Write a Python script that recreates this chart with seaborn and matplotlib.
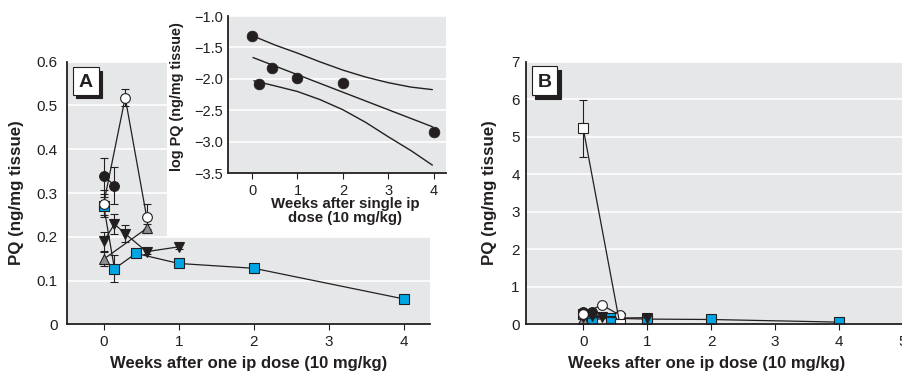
import numpy as np
import pandas as pd
import matplotlib
matplotlib.use("Agg")
import matplotlib.pyplot as plt
import seaborn as sns
from matplotlib.patches import Rectangle
from matplotlib.transforms import offset_copy

# ---------------- data ----------------
weeks_black_circle = [0.0, 0.143]
pq_black_circle = [0.339, 0.317]
err_black_circle = [0.042, 0.043]

weeks_white_circle = [0.0, 0.286, 0.571]
pq_white_circle = [0.276, 0.518, 0.246]
err_white_circle = [0.03, 0.02, 0.028]

weeks_blue_square = [0.0, 0.143, 0.429, 1.0, 2.0, 4.0]
pq_blue_square = [0.270, 0.127, 0.162, 0.139, 0.128, 0.058]
err_blue_square = [0.02, 0.031, 0.006, 0.006, 0.01, 0.004]

weeks_down_tri = [0.0, 0.143, 0.286, 0.571, 1.0]
pq_down_tri = [0.190, 0.229, 0.207, 0.166, 0.177]
err_down_tri = [0.022, 0.022, 0.02, 0.005, 0.006]

weeks_gray_tri = [0.0, 0.571]
pq_gray_tri = [0.149, 0.219]
err_gray_tri = [0.016, 0.01]

weeks_white_square = [0.0, 0.571]
pq_white_square = [5.22, 0.02]
err_white_square = [0.77, 0.0]

inset_weeks = [0.0, 0.143, 0.429, 1.0, 2.0, 4.0]
inset_logpq = [-1.31, -2.08, -1.82, -1.98, -2.06, -2.84]
fit_weeks = [0.02, 3.97]
fit_logpq = [-1.66, -2.76]
upper_weeks = [0.13, 0.5, 1.0, 1.5, 2.0, 2.5, 3.0, 3.5, 3.97]
upper_logpq = [-1.35, -1.46, -1.59, -1.73, -1.86, -1.97, -2.06, -2.13, -2.17]
lower_weeks = [0.04, 0.5, 1.0, 1.5, 2.0, 2.5, 3.0, 3.5, 3.97]
lower_logpq = [-2.03, -2.11, -2.20, -2.33, -2.49, -2.69, -2.92, -3.14, -3.37]

xticks_A = [0, 1, 2, 3, 4]
yticks_A = [0, 0.1, 0.2, 0.3, 0.4, 0.5, 0.6]
yticklabels_A = ["0", "0.1", "0.2", "0.3", "0.4", "0.5", "0.6"]
xticks_B = [0, 1, 2, 3, 4, 5]
yticks_B = [0, 1, 2, 3, 4, 5, 6, 7]
xticks_I = [0, 1, 2, 3, 4]
yticks_I = [-1.0, -1.5, -2.0, -2.5, -3.0, -3.5]
yticklabels_I = ["\u22121.0", "\u22121.5", "\u22122.0", "\u22122.5", "\u22123.0", "\u22123.5"]

xlabel_main = "Weeks after one ip dose (10 mg/kg)"
ylabel_main = "PQ (ng/mg tissue)"
xlabel_inset = "Weeks after single ip\ndose (10 mg/kg)"
ylabel_inset = "log PQ (ng/mg tissue)"

# ---------------- style ----------------
BG = "#e6e7e8"
INK = "#231f20"
BLUE = "#00a6e4"
GRAY = "#8c8e90"

sns.set_style("darkgrid", rc={"axes.facecolor": BG, "grid.color": "white",
                              "grid.linewidth": 1.2})
plt.rcParams["font.family"] = ["Liberation Sans", "DejaVu Sans"]
plt.rcParams["text.color"] = INK
plt.rcParams["axes.labelcolor"] = INK
plt.rcParams["xtick.color"] = INK
plt.rcParams["ytick.color"] = INK

fig = plt.figure(figsize=(9.03, 3.77), dpi=100)
W, H = 903.0, 377.0
axA = fig.add_axes([67 / W, 1 - 324.3 / H, 363 / W, 262.6 / H])
axB = fig.add_axes([526 / W, 1 - 324.3 / H, 377 / W, 262.6 / H])
axI = fig.add_axes([228 / W, 1 - 173.3 / H, 218 / W, 157.3 / H])


def style_axes(ax, ypad, tick_fs):
    for s in ["top", "right"]:
        ax.spines[s].set_visible(False)
    for s in ["left", "bottom"]:
        ax.spines[s].set_visible(True)
        ax.spines[s].set_color(INK)
        ax.spines[s].set_linewidth(1.3)
    ax.grid(axis="x", visible=False)
    ax.grid(axis="y", visible=True, color="white", linewidth=1.2)
    ax.set_axisbelow(True)
    ax.tick_params(axis="x", bottom=True, length=4, width=0.8, color=INK,
                   direction="out", pad=3.5, labelsize=tick_fs)
    ax.tick_params(axis="y", left=False, length=0, pad=ypad, labelsize=tick_fs)


def series(ax, xs, ys, errs, marker, face, ms):
    ax.errorbar(xs, ys, yerr=errs, fmt="none", ecolor=INK, elinewidth=0.8,
                capsize=3, capthick=0.8, zorder=1.9)
    sns.lineplot(x=xs, y=ys, ax=ax, sort=False, color=INK, linewidth=0.9,
                 marker=marker, markersize=ms, markerfacecolor=face,
                 markeredgecolor=INK, markeredgewidth=0.8, errorbar=None)


def draw_series(ax, with_white_square):
    series(ax, weeks_blue_square, pq_blue_square, err_blue_square, "s", BLUE, 6.5)
    series(ax, weeks_gray_tri, pq_gray_tri, err_gray_tri, "^", GRAY, 7.5)
    series(ax, weeks_down_tri, pq_down_tri, err_down_tri, "v", INK, 7.5)
    series(ax, weeks_black_circle, pq_black_circle, err_black_circle, "o", INK, 7)
    series(ax, weeks_white_circle, pq_white_circle, err_white_circle, "o", "white", 7)
    if with_white_square:
        series(ax, weeks_white_square, pq_white_square, err_white_square, "s", "white", 7)


def panel_box(ax, letter, x0, y0, w, h):
    shadow = offset_copy(ax.transAxes, fig=fig, x=3.5, y=-3.5, units="dots")
    ax.add_patch(Rectangle((x0, y0), w, h, transform=shadow, fc=INK, ec=INK,
                           lw=0.8, zorder=5, clip_on=False))
    ax.add_patch(Rectangle((x0, y0), w, h, transform=ax.transAxes, fc="white",
                           ec=INK, lw=0.8, zorder=6, clip_on=False))
    ax.text(x0 + w / 2, y0 + h / 2, letter, transform=ax.transAxes,
            ha="center", va="center_baseline", fontsize=14, fontweight="bold",
            color=INK, zorder=7)


# ---------------- panel A ----------------
style_axes(axA, 6.5, 11)
draw_series(axA, False)
axA.set_xlim(-0.49, 4.35)
axA.set_ylim(0, 0.6)
axA.set_xticks(xticks_A)
axA.set_xticklabels([str(t) for t in xticks_A])
axA.set_yticks(yticks_A)
axA.set_yticklabels(yticklabels_A)
axA.add_patch(Rectangle((100 / 363, 1 / 3), 1 - 100 / 363, 2 / 3,
                        transform=axA.transAxes, fc="white", ec="none", zorder=1))
axA.set_xlabel(xlabel_main, fontsize=12, fontweight="bold")
axA.set_ylabel(ylabel_main, fontsize=12.2, fontweight="bold")
axA.xaxis.set_label_coords(0.5, -0.122)
axA.yaxis.set_label_coords(-0.118, 0.5)
panel_box(axA, "A", 0.0165, 0.8743, 0.0708, 0.1055)

# ---------------- inset ----------------
style_axes(axI, 3.5, 10.5)
axI.tick_params(axis="x", pad=4)
sns.lineplot(x=upper_weeks, y=upper_logpq, ax=axI, sort=False, color=INK,
             linewidth=1.0, errorbar=None)
sns.lineplot(x=fit_weeks, y=fit_logpq, ax=axI, sort=False, color=INK,
             linewidth=1.0, errorbar=None)
sns.lineplot(x=lower_weeks, y=lower_logpq, ax=axI, sort=False, color=INK,
             linewidth=1.0, errorbar=None)
sns.scatterplot(x=inset_weeks, y=inset_logpq, ax=axI, color=INK, s=60,
                edgecolor=INK, linewidth=0.5, zorder=3)
axI.set_xlim(-0.53, 4.27)
axI.set_ylim(-3.5, -1.0)
axI.set_xticks(xticks_I)
axI.set_xticklabels([str(t) for t in xticks_I])
axI.set_yticks(yticks_I)
axI.set_yticklabels(yticklabels_I)
axI.set_xlabel(xlabel_inset, fontsize=10.8, fontweight="bold", linespacing=1.0)
axI.set_ylabel(ylabel_inset, fontsize=10.4, fontweight="bold")
axI.xaxis.set_label_coords(0.537, -0.15)
axI.yaxis.set_label_coords(-0.2, 0.485)

# ---------------- panel B ----------------
style_axes(axB, 4.5, 11)
draw_series(axB, True)
axB.set_xlim(-0.895, 5.0)
axB.set_ylim(0, 7)
axB.set_xticks(xticks_B)
axB.set_xticklabels([str(t) for t in xticks_B])
axB.set_yticks(yticks_B)
axB.set_yticklabels([str(t) for t in yticks_B])
axB.set_xlabel(xlabel_main, fontsize=12, fontweight="bold")
axB.set_ylabel(ylabel_main, fontsize=12.2, fontweight="bold")
axB.xaxis.set_label_coords(0.48, -0.122)
axB.yaxis.set_label_coords(-0.078, 0.5)
panel_box(axB, "B", 0.0151, 0.873, 0.068, 0.1105)

fig.savefig("out.png", dpi=100)
